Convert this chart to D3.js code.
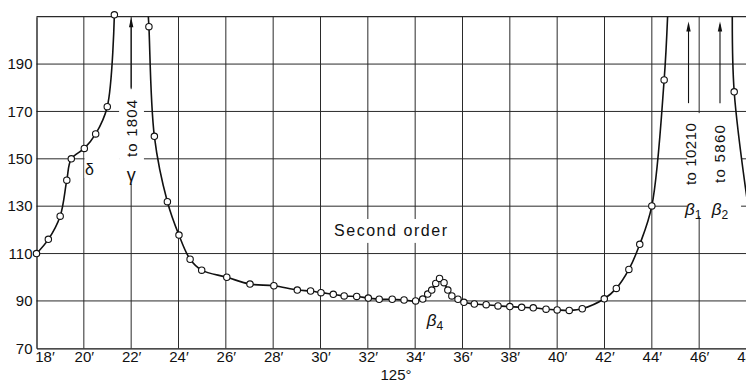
<!DOCTYPE html>
<html><head><meta charset="utf-8">
<script src="https://cdn.jsdelivr.net/npm/d3@7"></script>
<style>
html,body{margin:0;padding:0;background:#fff;}
svg{display:block;}
text{font-family:"Liberation Sans","DejaVu Sans",sans-serif;fill:#111;}
</style></head><body>
<svg id="chart" width="746" height="382"></svg>
<script>
// ---- data (minutes of arc past 125°, intensity) ----
const xTicks = [18,20,22,24,26,28,30,32,34,36,38,40,42,44,46,48];
const yTicks = [70,90,110,130,150,170,190];

const deltaX = [18.0, 18.5, 19.0, 19.28, 19.47, 20.02, 20.5, 20.99, 21.29];
const deltaY = [110, 116, 125.8, 141, 150, 154.4, 160.5, 172, 210.8];

const mainX = [22.75, 22.98, 23.53, 24.02, 24.49, 24.98, 26.04, 27.02, 28.03, 29.02, 29.58, 30.02, 30.54, 31.0, 31.53, 32.02, 32.48, 33.03, 33.53, 34.02, 34.32, 34.53, 34.70, 34.87, 35.03, 35.22, 35.38, 35.55, 35.81, 36.06, 36.5, 37.0, 37.5, 38.0, 38.5, 38.99, 39.53, 40.0, 40.51, 41.06, 41.99, 42.5, 43.03, 43.49, 44.0, 44.52];
const mainY = [205.8, 159.5, 131.9, 117.8, 107.6, 103, 100, 97.1, 96.4, 94.6, 94.2, 93.5, 92.8, 92.1, 91.9, 91.2, 90.7, 90.7, 90.4, 90.0, 90.8, 92.9, 94.6, 97.4, 99.5, 97.7, 94.6, 92.1, 90.7, 89.4, 88.7, 88.4, 87.9, 87.6, 87.3, 87.1, 86.5, 86.2, 86.0, 86.7, 90.9, 95.3, 103.3, 113.9, 130.1, 183.3];

const beta2X = [47.48];
const beta2Y = [178.3];

// where the curves leave the frame (line only, no circle)
const gammaTop = [22.72, 211];
const beta1Top = [44.67, 211];
const beta2Top = [47.40, 211];
const beta2Edge = [48.05, 131];

// arrows: x, from, to
const arrowX = [22, 45.55, 46.88];
const arrowFrom = [180, 173.5, 173.5];
const arrowTo = [209.8, 208, 208];

// ---- drawing ----
const svg = d3.select("#chart");
const x = d3.scaleLinear().domain([18,48]).range([36.5,746.5]);
const y = d3.scaleLinear().domain([70,210]).range([348.3,16.7]);
const ink = "#111";

svg.append("defs").append("clipPath").attr("id","plot")
  .append("rect").attr("x",x(18)).attr("y",y(210)).attr("width",x(48)-x(18)).attr("height",y(70)-y(210));

// grid
const grid = svg.append("g");
grid.selectAll("line.v").data(xTicks.filter(d=>d>18 && d<48)).join("line")
  .attr("x1",d=>x(d)).attr("x2",d=>x(d)).attr("y1",y(210)).attr("y2",y(70))
  .attr("stroke","#2a2a2a").attr("stroke-width",1);
grid.selectAll("line.h").data(yTicks.filter(d=>d>70).concat([210])).join("line")
  .attr("x1",x(18)).attr("x2",x(48)).attr("y1",d=>y(d)).attr("y2",d=>y(d))
  .attr("stroke","#2a2a2a").attr("stroke-width",d=>d===210?1.2:1);

// knockouts behind labels
const knock = [
  {x0:21.49, x1:22.54, y0:179.4, y1:139.4},
  {x0:20.03, x1:21.49, y0:152.9, y1:141.9},
  {x0:45.49, x1:47.77, y0:169.3, y1:125.8},
  {x0:30.40, x1:35.55, y0:124.6, y1:114.5}
];
svg.append("g").selectAll("rect").data(knock).join("rect")
  .attr("x",d=>x(d.x0)).attr("width",d=>x(d.x1)-x(d.x0))
  .attr("y",d=>y(d.y0)).attr("height",d=>y(d.y1)-y(d.y0))
  .attr("fill","#fff");

// axes
const xAxis = svg.append("g").attr("transform",`translate(0,${y(70)})`)
  .call(d3.axisBottom(x).tickValues(xTicks).tickSize(0).tickSizeOuter(0).tickPadding(3).tickFormat(d=>d+"\u2032"));
const yAxis = svg.append("g").attr("transform",`translate(${x(18)},0)`)
  .call(d3.axisLeft(y).tickValues(yTicks).tickSize(0).tickSizeOuter(0).tickPadding(4));
[xAxis,yAxis].forEach(a=>{
  a.select(".domain").attr("stroke",ink).attr("stroke-width",1.3);
  a.selectAll("text").attr("font-size",15).attr("fill",ink)
   .attr("font-family","'Liberation Sans','DejaVu Sans',sans-serif");
});
xAxis.selectAll(".tick").filter(d=>d===18).select("text").attr("dx",8);

// curves
const line = d3.line().x(d=>x(d[0])).y(d=>y(d[1])).curve(d3.curveCatmullRom.alpha(0.5));
const deltaPts = deltaX.map((v,i)=>[v,deltaY[i]]);
const mainPts = mainX.map((v,i)=>[v,mainY[i]]);
const beta2Pts = beta2X.map((v,i)=>[v,beta2Y[i]]);
const curves = [
  deltaPts,
  [gammaTop].concat(mainPts).concat([beta1Top]),
  [beta2Top].concat(beta2Pts).concat([beta2Edge])
];
svg.append("g").attr("clip-path","url(#plot)").selectAll("path").data(curves).join("path")
  .attr("d",line).attr("fill","none").attr("stroke",ink).attr("stroke-width",1.6);

// points
svg.append("g").selectAll("circle").data(deltaPts.concat(mainPts).concat(beta2Pts)).join("circle")
  .attr("cx",d=>x(d[0])).attr("cy",d=>y(d[1])).attr("r",3.2)
  .attr("fill","#fff").attr("stroke",ink).attr("stroke-width",1.1);

// arrows
const ar = svg.append("g");
arrowX.forEach((ax,i)=>{
  const px = x(ax), top = y(arrowTo[i]);
  ar.append("line").attr("x1",px).attr("x2",px).attr("y1",y(arrowFrom[i])).attr("y2",top+3)
    .attr("stroke",ink).attr("stroke-width",1.1);
  ar.append("path").attr("d",`M${px-2.2},${top+10}L${px},${top}L${px+2.2},${top+10}Z`).attr("fill",ink);
});

// labels
const lab = svg.append("g");
function rot(txt, xv, yv, len){
  lab.append("text").attr("transform",`translate(${x(xv)},${y(yv)}) rotate(-90)`)
    .attr("text-anchor","middle").attr("dy","0.36em").attr("font-size",15)
    .attr("textLength",len).attr("lengthAdjust","spacing").text(txt);
}
rot("to 1804", 22.02, 162.8, 57);
rot("to 10210", 45.62, 152, 62);
rot("to 5860", 46.85, 152, 58);

lab.append("text").attr("x",x(22)).attr("y",y(143)).attr("text-anchor","middle").attr("dy","0.3em")
  .attr("font-size",18).attr("font-family","'DejaVu Sans',sans-serif").text("γ");
lab.append("text").attr("x",x(20.24)).attr("y",y(145.7)).attr("text-anchor","middle").attr("dy","0.35em")
  .attr("font-size",16).attr("font-family","'DejaVu Sans',sans-serif").text("δ");
lab.append("text").attr("x",x(30.57)).attr("y",y(117.4)).attr("font-size",16)
  .attr("textLength",113).attr("lengthAdjust","spacing").text("Second order");

function beta(sub, xv, yv){
  const t = lab.append("text").attr("x",x(xv)).attr("y",y(yv)).attr("font-size",17)
    .attr("font-family","'DejaVu Sans',sans-serif").attr("font-style","italic");
  t.append("tspan").text("β");
  t.append("tspan").attr("dy",4).attr("font-size",12).attr("font-style","normal").text(sub);
}
beta("1", 45.40, 126.2);
beta("2", 46.53, 126.2);
beta("4", 34.49, 79.4);

lab.append("text").attr("x",x(33.19)).attr("y",y(70)+32).attr("text-anchor","middle")
  .attr("font-size",15).text("125°");
</script>
</body></html>
